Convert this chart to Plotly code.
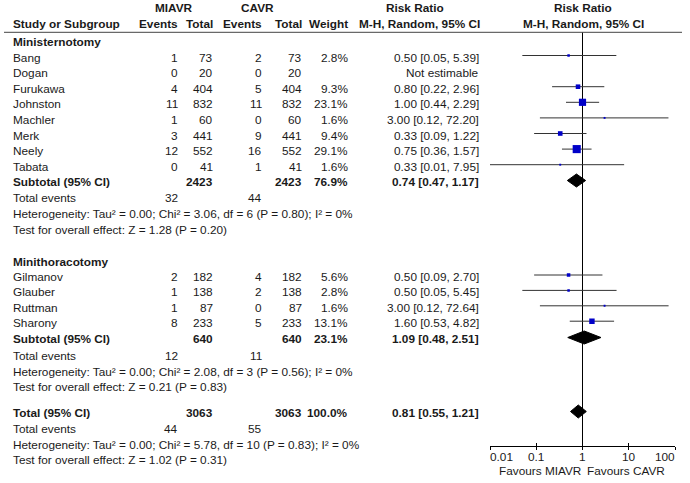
import math
import plotly.graph_objects as go

# ---------------- data ----------------
group1_name = "Ministernotomy"
g1_study = ["Bang", "Dogan", "Furukawa", "Johnston", "Machler", "Merk", "Neely", "Tabata"]
g1_ev_mi = [1, 0, 4, 11, 1, 3, 12, 0]
g1_tot_mi = [73, 20, 404, 832, 60, 441, 552, 41]
g1_ev_ca = [2, 0, 5, 11, 0, 9, 16, 1]
g1_tot_ca = [73, 20, 404, 832, 60, 441, 552, 41]
g1_weight = [2.8, None, 9.3, 23.1, 1.6, 9.4, 29.1, 1.6]
g1_rr = [0.50, None, 0.80, 1.00, 3.00, 0.33, 0.75, 0.33]
g1_lo = [0.05, None, 0.22, 0.44, 0.12, 0.09, 0.36, 0.01]
g1_hi = [5.39, None, 2.96, 2.29, 72.20, 1.22, 1.57, 7.95]
g1_sub = dict(tot_mi=2423, tot_ca=2423, weight="76.9%", rr=0.74, lo=0.47, hi=1.17,
              ev_mi=32, ev_ca=44,
              het="Heterogeneity: Tau² = 0.00; Chi² = 3.06, df = 6 (P = 0.80); I² = 0%",
              test="Test for overall effect: Z = 1.28 (P = 0.20)")

group2_name = "Minithoracotomy"
g2_study = ["Gilmanov", "Glauber", "Ruttman", "Sharony"]
g2_ev_mi = [2, 1, 1, 8]
g2_tot_mi = [182, 138, 87, 233]
g2_ev_ca = [4, 2, 0, 5]
g2_tot_ca = [182, 138, 87, 233]
g2_weight = [5.6, 2.8, 1.6, 13.1]
g2_rr = [0.50, 0.50, 3.00, 1.60]
g2_lo = [0.09, 0.05, 0.12, 0.53]
g2_hi = [2.70, 5.45, 72.64, 4.82]
g2_sub = dict(tot_mi=640, tot_ca=640, weight="23.1%", rr=1.09, lo=0.48, hi=2.51,
              ev_mi=12, ev_ca=11,
              het="Heterogeneity: Tau² = 0.00; Chi² = 2.08, df = 3 (P = 0.56); I² = 0%",
              test="Test for overall effect: Z = 0.21 (P = 0.83)")

overall = dict(tot_mi=3063, tot_ca=3063, weight="100.0%", rr=0.81, lo=0.55, hi=1.21,
               ev_mi=44, ev_ca=55,
               het="Heterogeneity: Tau² = 0.00; Chi² = 5.78, df = 10 (P = 0.83); I² = 0%",
               test="Test for overall effect: Z = 1.02 (P = 0.31)")

tick_vals = [0.01, 0.1, 1, 10, 100]
tick_text = ["0.01", "0.1", "1", "10", "100"]

# ---------------- layout helpers ----------------
W, H = 690, 483
FONT = "Liberation Sans"
FS = 11.8
TXT = "#1a1a1a"
AXIS_Y = 445.7

def px(x):
    return x / W

def py(y):
    return 1 - y / H

annotations = []

def txt(x, y, s, anchor="left", bold=False):
    if bold:
        s = "<b>" + s + "</b>"
    annotations.append(dict(x=px(x), y=py(y), xref="paper", yref="paper", text=s,
                            showarrow=False, xanchor=anchor, yanchor="middle",
                            borderpad=0, borderwidth=0,
                            font=dict(family=FONT, size=FS, color=TXT)))

# column positions
C_LABEL = 13
C_EVMI = 178
C_TOTMI = 213
C_EVCA = 262
C_TOTCA = 302
C_W = 348
C_RR = 479

fig = go.Figure()

# header
txt(174, 8, "MIAVR", "center", True)
txt(257, 8, "CAVR", "center", True)
txt(415, 8, "Risk Ratio", "center", True)
txt(583, 8, "Risk Ratio", "center", True)
txt(C_LABEL, 24, "Study or Subgroup", "left", True)
txt(C_EVMI, 24, "Events", "right", True)
txt(C_TOTMI, 24, "Total", "right", True)
txt(C_EVCA, 24, "Events", "right", True)
txt(C_TOTCA, 24, "Total", "right", True)
txt(C_W, 24, "Weight", "right", True)
txt(C_RR + 1, 24, "M-H, Random, 95% CI", "right", True)
txt(583, 24, "M-H, Random, 95% CI", "center", True)

# reference line at RR = 1 (drawn first, behind marks)
fig.add_trace(go.Scatter(x=[1, 1], y=[32.3, AXIS_Y], mode="lines",
                         line=dict(color="black", width=1), hoverinfo="skip",
                         showlegend=False, xaxis="x", yaxis="y"))

def study_rows(names, evm, totm, evc, totc, wt, rr, lo, hi, y0, step):
    for i, n in enumerate(names):
        y = y0 + i * step
        txt(C_LABEL, y, n)
        txt(C_EVMI, y, str(evm[i]), "right")
        txt(C_TOTMI, y, str(totm[i]), "right")
        txt(C_EVCA, y, str(evc[i]), "right")
        txt(C_TOTCA, y, str(totc[i]), "right")
        if wt[i] is not None:
            txt(C_W, y, f"{wt[i]:.1f}%", "right")
            txt(C_RR, y, f"{rr[i]:.2f} [{lo[i]:.2f}, {hi[i]:.2f}]", "right")
            ym = y - 2
            fig.add_trace(go.Scatter(x=[lo[i], hi[i]], y=[ym, ym], mode="lines",
                                     line=dict(color="#333333", width=1),
                                     hoverinfo="skip", showlegend=False))
            fig.add_trace(go.Scatter(x=[rr[i]], y=[ym], mode="markers",
                                     marker=dict(symbol="square", color="#0000c8",
                                                 size=1.5 * wt[i] ** 0.5,
                                                 line=dict(width=0)),
                                     hoverinfo="skip", showlegend=False))
        else:
            txt(C_RR, y, "Not estimable", "right")

def summary_rows(lbl, d, y_sub, y_ev, y_het, y_test):
    txt(C_LABEL, y_sub, lbl, "left", True)
    txt(C_TOTMI, y_sub, str(d["tot_mi"]), "right", True)
    txt(C_TOTCA, y_sub, str(d["tot_ca"]), "right", True)
    txt(C_W, y_sub, d["weight"], "right", True)
    txt(C_RR, y_sub, f"{d['rr']:.2f} [{d['lo']:.2f}, {d['hi']:.2f}]", "right", True)
    ym = y_sub - 1
    hh = 6.5
    fig.add_trace(go.Scatter(x=[d["lo"], d["rr"], d["hi"], d["rr"], d["lo"]],
                             y=[ym, ym - hh, ym, ym + hh, ym], mode="lines",
                             fill="toself", fillcolor="black",
                             line=dict(color="black", width=1),
                             hoverinfo="skip", showlegend=False))
    txt(C_LABEL, y_ev, "Total events")
    txt(C_EVMI, y_ev, str(d["ev_mi"]), "right")
    txt(C_EVCA, y_ev, str(d["ev_ca"]), "right")
    txt(C_LABEL, y_het, d["het"])
    txt(C_LABEL, y_test, d["test"])

# group 1
txt(C_LABEL, 42, group1_name, "left", True)
study_rows(g1_study, g1_ev_mi, g1_tot_mi, g1_ev_ca, g1_tot_ca, g1_weight,
           g1_rr, g1_lo, g1_hi, 57.5, 15.6)
summary_rows("Subtotal (95% CI)", g1_sub, 181.5, 198, 214, 230)

# group 2
txt(C_LABEL, 261.5, group2_name, "left", True)
study_rows(g2_study, g2_ev_mi, g2_tot_mi, g2_ev_ca, g2_tot_ca, g2_weight,
           g2_rr, g2_lo, g2_hi, 277, 15.4)
summary_rows("Subtotal (95% CI)", g2_sub, 338.5, 355.5, 371.5, 387)

# overall
summary_rows("Total (95% CI)", overall, 412.5, 429, 444.5, 459.5)

# tick labels (end labels kept inside the axis span, as in the reference)
for v, t in zip(tick_vals, tick_text):
    anc = "left" if v == tick_vals[0] else ("right" if v == tick_vals[-1] else "center")
    annotations.append(dict(x=math.log10(v), y=py(457), xref="x", yref="paper",
                            text=t, showarrow=False, xanchor=anc, yanchor="middle",
                            borderpad=0, borderwidth=0,
                            font=dict(family=FONT, size=FS, color=TXT)))

# favours labels
txt(581, 471, "Favours MIAVR", "right")
txt(587, 471, "Favours CAVR", "left")

# invisible trace for overlay axis
fig.add_trace(go.Scatter(x=[1], y=[0], mode="markers", marker=dict(opacity=0),
                         hoverinfo="skip", showlegend=False, xaxis="x2", yaxis="y"))

xdom = [490 / W, 675 / W]
fig.update_layout(
    width=W, height=H,
    margin=dict(l=0, r=0, t=0, b=0),
    paper_bgcolor="white", plot_bgcolor="white",
    showlegend=False,
    annotations=annotations,
    shapes=[dict(type="line", xref="paper", yref="paper", x0=px(4), x1=px(682),
                 y0=py(32.3), y1=py(32.3), line=dict(color="#444444", width=1))],
    xaxis=dict(type="log", range=[-2, 2], domain=xdom, anchor="y",
               tickvals=tick_vals, ticks="outside", ticklen=3, showticklabels=False,
               tickcolor="black", showline=True, linecolor="black", linewidth=1,
               showgrid=False, zeroline=False),
    xaxis2=dict(type="log", range=[-2, 2], domain=xdom, anchor="y", overlaying="x",
                tickvals=tick_vals, ticks="inside", ticklen=3, tickcolor="black",
                showticklabels=False, showline=False, showgrid=False, zeroline=False),
    yaxis=dict(domain=[1 - AXIS_Y / H, 1], range=[AXIS_Y, 0], visible=False,
               showgrid=False, zeroline=False),
)

fig.write_html("out.html", config={"displayModeBar": False},
               post_script="document.body.style.margin='0px';")
